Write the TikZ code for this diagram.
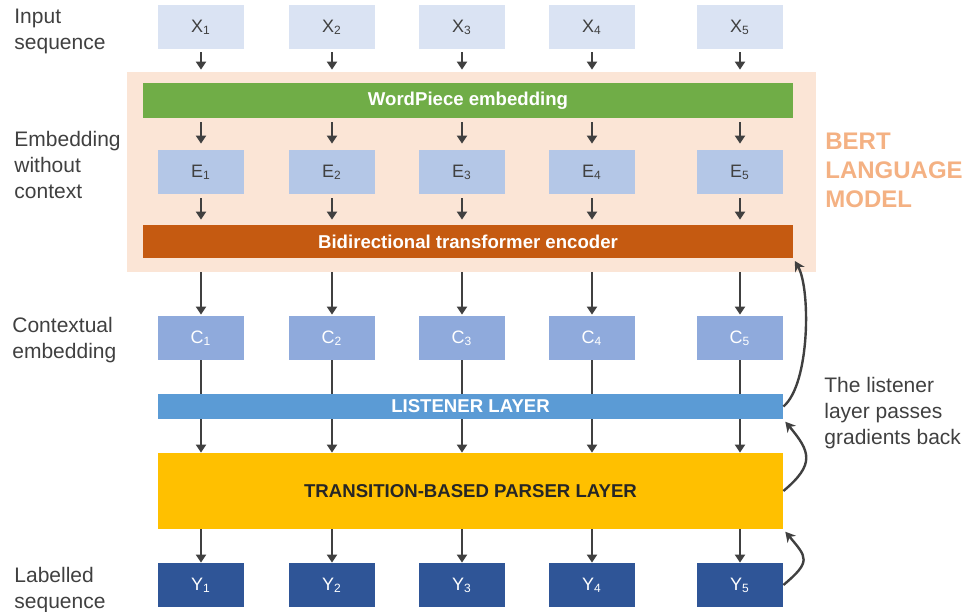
\documentclass[tikz,border=0pt]{standalone}
\usepackage{fontspec}
\setmainfont{Liberation Sans}
\usetikzlibrary{arrows.meta}

\definecolor{inputblue}{HTML}{DAE3F3}
\definecolor{embedblue}{HTML}{B4C7E7}
\definecolor{contextblue}{HTML}{8FAADC}
\definecolor{outputblue}{HTML}{2F5597}
\definecolor{listenerblue}{HTML}{5B9BD5}
\definecolor{parseryellow}{HTML}{FFC000}
\definecolor{wordgreen}{HTML}{70AD47}
\definecolor{encoderorange}{HTML}{C55A11}
\definecolor{bertpeach}{HTML}{FBE5D6}
\definecolor{bertlabel}{HTML}{F4B183}
\definecolor{textgray}{HTML}{404040}

\begin{document}
\begin{tikzpicture}[
        x=0.5pt, y=0.5pt,
        token box/.style={minimum width=43pt, minimum height=22pt, inner sep=0pt, font=\fontsize{9}{11}\selectfont},
        layer bar/.style={inner sep=0pt, font=\fontsize{9.3}{11}\selectfont\bfseries},
        side label/.style={anchor=north west, align=left, inner sep=0pt, text=textgray, font=\fontsize{10.5}{13}\selectfont},
        flow/.style={-{Triangle[width=5pt,length=4pt]}, line width=1.3pt, draw=textgray},
        back flow/.style={-{Stealth[width=5.5pt,length=5pt]}, line width=1.2pt, draw=textgray, shorten >=1.5pt}
      ]

      \useasboundingbox (0,0) rectangle (964,-611);

      \node[fill=bertpeach, minimum width=344.5pt, minimum height=100pt, inner sep=0pt] (bert) at (471.5,-172) {};
      \node[layer bar, fill=wordgreen, text=white, minimum width=325pt, minimum height=17.5pt] (wordpiece) at (468,-100.5) {WordPiece embedding};
      \node[layer bar, fill=encoderorange, text=white, minimum width=325pt, minimum height=16.5pt] (encoder) at (468,-241.5) {Bidirectional transformer encoder};
      \node[layer bar, fill=listenerblue, text=white, minimum width=312.5pt, minimum height=12.5pt] (listener) at (470.5,-406.5) {LISTENER LAYER};
      \node[layer bar, fill=parseryellow, text=black!85, minimum width=312.5pt, minimum height=38pt] (parser) at (470.5,-491) {TRANSITION-BASED PARSER LAYER};

      \foreach \i/\x in {1/201,2/332,3/462,4/592,5/740} {
          \node[token box, fill=inputblue, text=textgray] (x\i) at (\x,-27) {X\textsubscript{\i}};
          \node[token box, fill=embedblue, text=textgray] (e\i) at (\x,-172) {E\textsubscript{\i}};
          \node[token box, fill=contextblue, text=white] (c\i) at (\x,-338) {C\textsubscript{\i}};
          \node[token box, fill=outputblue, text=white] (y\i) at (\x,-585) {Y\textsubscript{\i}};

          \draw[flow, shorten <=1.5pt, shorten >=1pt] (x\i) -- (x\i |- bert.north);
          \draw[flow, shorten <=2pt, shorten >=3pt] (x\i |- wordpiece.south) -- (e\i);
          \draw[flow, shorten <=2pt, shorten >=2.5pt] (e\i) -- (e\i |- encoder.north);
          \draw[flow, shorten >=0.5pt] (c\i |- bert.south) -- (c\i);
          \draw[line width=1.3pt, textgray] (c\i) -- (c\i |- listener.north);
          \draw[flow] (c\i |- listener.south) -- (c\i |- parser.north);
          \draw[flow] (c\i |- parser.south) -- (y\i);
        }

      \draw[back flow] (listener.east) to[out=40, in=-60, looseness=0.6] (encoder.south east);
      \draw[back flow] (parser.east) to[out=40, in=-50, looseness=1.5] (listener.south east);
      \draw[back flow] (y5.east) to[out=40, in=-50, looseness=1.7] (parser.south east);

      \node[side label] (input label) at (14,-9) {Input\\sequence};
      \node[side label] (embedding label) at (14,-131) {Embedding\\without\\context};
      \node[side label] (context label) at (12,-317) {Contextual\\embedding};
      \node[side label] (output label) at (14,-567) {Labelled\\sequence};
      \node[side label] (gradient note) at (824,-377) {The listener\\layer passes\\gradients back};
      \node[side label, text=bertlabel, font=\fontsize{12}{14.3}\selectfont\bfseries] (bert label) at (825,-133) {BERT\\LANGUAGE\\MODEL};

    \end{tikzpicture}
\end{document}
